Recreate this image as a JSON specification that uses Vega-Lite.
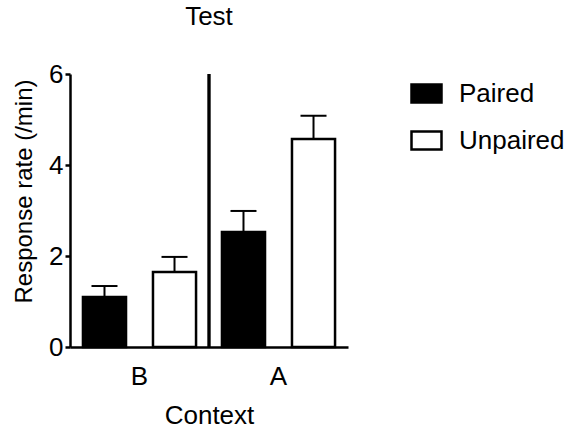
{
  "$schema": "https://vega.github.io/schema/vega-lite/v6.json",
  "width": 278,
  "height": 273,
  "autosize": {"type": "none"},
  "padding": {"left": 70, "top": 74, "right": 219, "bottom": 88},
  "background": "white",
  "config": {
    "font": "Liberation Sans",
    "view": {"stroke": null},
    "axis": {"domainColor": "black", "domainWidth": 2.5, "tickColor": "black", "tickWidth": 2.5, "labelColor": "black", "titleColor": "black", "labelFont": "Liberation Sans", "titleFont": "Liberation Sans", "titleFontWeight": "normal", "grid": false}
  },
  "title": {"text": "Test", "fontSize": 26, "fontWeight": "normal", "font": "Liberation Sans", "color": "black", "anchor": "middle", "offset": 31},
  "data": {
    "values": [
      {"Context": "B", "Group": "Paired", "rate": 1.10, "upper": 1.34},
      {"Context": "B", "Group": "Unpaired", "rate": 1.65, "upper": 1.98},
      {"Context": "A", "Group": "Paired", "rate": 2.53, "upper": 2.99},
      {"Context": "A", "Group": "Unpaired", "rate": 4.57, "upper": 5.08}
    ]
  },
  "encoding": {
    "x": {"field": "Context", "type": "nominal", "sort": ["B", "A"],
      "scale": {"paddingInner": 0, "paddingOuter": 0},
      "axis": {"title": "Context", "labelAngle": 0, "ticks": false, "tickSize": 0, "labelPadding": 16, "labelFontSize": 26, "titleFontSize": 26, "titlePadding": 13}},
    "xOffset": {"field": "Group", "type": "nominal", "sort": ["Paired", "Unpaired"],
      "scale": {"paddingInner": 0.385, "paddingOuter": 0.185}}
  },
  "layer": [
    {
      "mark": {"type": "rule", "strokeWidth": 2, "color": "black"},
      "encoding": {
        "y": {"field": "rate", "type": "quantitative"},
        "y2": {"field": "upper"}
      }
    },
    {
      "mark": {"type": "tick", "size": 26, "thickness": 2, "color": "black", "opacity": 1},
      "encoding": {
        "y": {"field": "upper", "type": "quantitative"}
      }
    },
    {
      "mark": {"type": "bar", "stroke": "black", "strokeWidth": 2.5, "opacity": 1},
      "encoding": {
        "y": {"field": "rate", "type": "quantitative",
          "scale": {"domain": [0, 6], "nice": false},
          "axis": {"title": "Response rate (/min)", "values": [0, 2, 4, 6], "tickSize": 5, "labelPadding": 2, "labelFontSize": 26, "titleFontSize": 24, "titlePadding": 12, "titleY": 117}},
        "fill": {"field": "Group", "type": "nominal",
          "scale": {"domain": ["Paired", "Unpaired"], "range": ["black", "white"]},
          "legend": {"title": null, "orient": "none", "legendX": 340, "legendY": 3, "padding": 0,
            "symbolType": "M-1,-0.6H1V0.6H-1Z", "symbolSize": 900, "symbolStrokeColor": "black", "symbolStrokeWidth": 2.5,
            "labelFontSize": 26, "labelFont": "Liberation Sans", "labelColor": "black", "labelOffset": 16, "rowPadding": 16}}
      }
    },
    {
      "mark": {"type": "rule", "strokeWidth": 2.5, "color": "black"},
      "encoding": {
        "x": {"datum": "A", "bandPosition": 0},
        "xOffset": {"value": 0},
        "y": {"datum": 0, "type": "quantitative"},
        "y2": {"datum": 6}
      }
    }
  ]
}
